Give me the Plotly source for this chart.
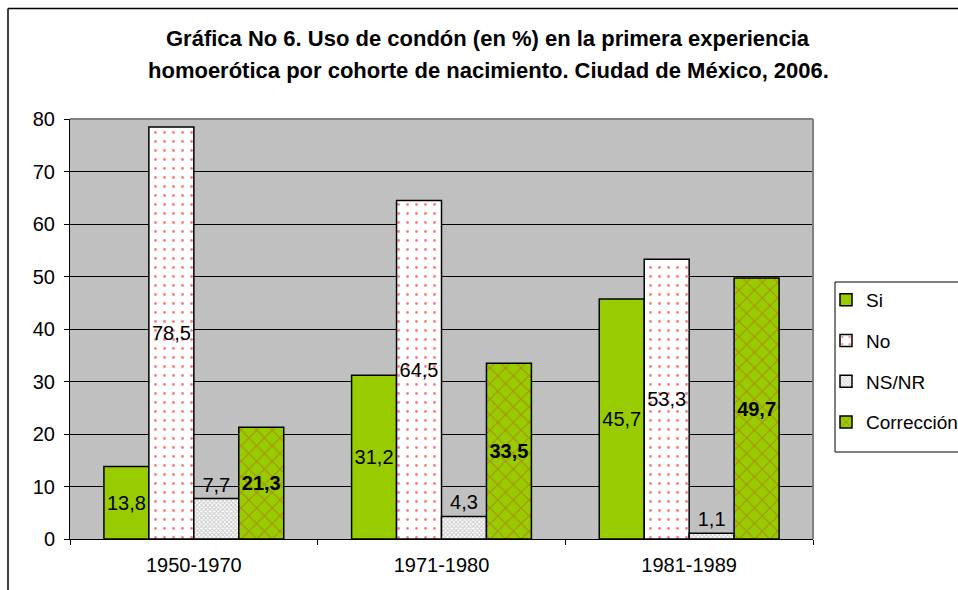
import plotly.graph_objects as go

categories = ["1950-1970", "1971-1980", "1981-1989"]
si = [13.8, 31.2, 45.7]
no = [78.5, 64.5, 53.3]
nsnr = [7.7, 4.3, 1.1]
correccion = [21.3, 33.5, 49.7]
y_ticks = [0, 10, 20, 30, 40, 50, 60, 70, 80]

FONT = "Liberation Sans, Arial, sans-serif"
GREEN = "#99CC00"
FS = 20

fig = go.Figure()

fig.add_trace(go.Bar(
    name="Si", x=categories, y=si, legendgroup="a",
    marker=dict(color=GREEN, line=dict(color="black", width=1.5)),
    texttemplate="%{y:.1f}", textposition="inside", insidetextanchor="middle",
    insidetextfont=dict(color="black", size=FS, family=FONT),
    constraintext="none",
))
fig.add_trace(go.Bar(
    name="No", x=categories, y=no, legendgroup="b",
    marker=dict(color="white", line=dict(color="black", width=1.5),
                pattern=dict(shape=".", fgcolor="#FF0000", bgcolor="white",
                             size=9, solidity=0.08, fillmode="overlay")),
    texttemplate="%{y:.1f}", textposition="inside", insidetextanchor="middle",
    insidetextfont=dict(color="black", size=FS, family=FONT),
    constraintext="none",
))
fig.add_trace(go.Bar(
    name="NS/NR", x=categories, y=nsnr, legendgroup="c",
    marker=dict(color="white", line=dict(color="black", width=1.5),
                pattern=dict(shape="x", fgcolor="#909090", bgcolor="white",
                             size=3, solidity=0.5, fillmode="overlay")),
    texttemplate="%{y:.1f}", textposition="outside",
    outsidetextfont=dict(color="black", size=FS, family=FONT),
    constraintext="none", cliponaxis=False,
))
fig.add_trace(go.Bar(
    name="Corrección", x=categories, y=correccion, legendgroup="d",
    marker=dict(color=GREEN, line=dict(color="black", width=1.5),
                pattern=dict(shape="x", fgcolor="#B5541C", bgcolor=GREEN,
                             size=11, solidity=0.2, fillmode="overlay")),
    texttemplate="<b>%{y:.1f}</b>", textposition="inside", insidetextanchor="middle",
    insidetextfont=dict(color="black", size=FS, family=FONT),
    constraintext="none",
))

L, R, T, B = 70, 813, 119, 539
W, H = 958, 590
pw, ph = R - L, B - T

def px(x):
    return (x - L) / pw

def py(y):
    return (B - y) / ph

fig.update_layout(
    width=W, height=H,
    margin=dict(l=L, r=W - R, t=T, b=H - B, pad=0, autoexpand=False),
    paper_bgcolor="white",
    plot_bgcolor="#C0C0C0",
    font=dict(family=FONT, size=FS, color="black"),
    separators=",.",
    barmode="group",
    bargap=0.274,
    bargroupgap=0,
    showlegend=True,
    legend=dict(
        xref="container", yref="container",
        x=826 / W, y=1 - 281 / H, xanchor="left", yanchor="top",
        bgcolor="rgba(0,0,0,0)", borderwidth=0,
        font=dict(size=19, family=FONT),
        traceorder="grouped", tracegroupgap=13,
        itemwidth=30,
    ),
    xaxis=dict(
        showline=True, linecolor="black", linewidth=1,
        ticks="outside", ticklen=5, tickcolor="black", tickson="boundaries",
        showgrid=False, tickfont=dict(size=FS), ticklabelstandoff=8,
    ),
    yaxis=dict(
        range=[0, 80], tickvals=y_ticks, showline=True, linecolor="black", linewidth=1,
        ticks="outside", ticklen=5, tickcolor="black",
        showgrid=True, gridcolor="black", gridwidth=1,
        zeroline=False, tickfont=dict(size=FS), ticklabelstandoff=5,
    ),
    annotations=[
        dict(text="<b>Gráfica No 6. Uso de condón (en %) en la primera experiencia</b>",
             xref="paper", yref="paper", x=px(488), y=py(38),
             xanchor="center", yanchor="middle", showarrow=False,
             font=dict(size=22, family=FONT)),
        dict(text="<b>homoerótica por cohorte de nacimiento. Ciudad de México, 2006.</b>",
             xref="paper", yref="paper", x=px(488), y=py(71),
             xanchor="center", yanchor="middle", showarrow=False,
             font=dict(size=22, family=FONT)),
    ],
    shapes=[
        dict(type="line", xref="paper", yref="paper", x0=0, x1=1, y0=1, y1=1,
             line=dict(color="#808080", width=2), layer="above"),
        dict(type="line", xref="paper", yref="paper", x0=1, x1=1, y0=0, y1=1,
             line=dict(color="#808080", width=2), layer="above"),
        dict(type="line", xref="paper", yref="paper", x0=px(8), x1=px(8),
             y0=py(600), y1=py(8.5), line=dict(color="black", width=1.5)),
        dict(type="line", xref="paper", yref="paper", x0=px(8), x1=px(970),
             y0=py(8.5), y1=py(8.5), line=dict(color="black", width=1.5)),
        # legend frame
        dict(type="rect", xref="paper", yref="paper", x0=px(835), x1=px(975),
             y0=py(452), y1=py(282), fillcolor="white",
             line=dict(color="black", width=1), layer="above"),
    ],
)

fig.write_html("out.html",
               config={"displayModeBar": False},
               post_script="document.body.style.margin='0';document.body.style.overflow='hidden';")
